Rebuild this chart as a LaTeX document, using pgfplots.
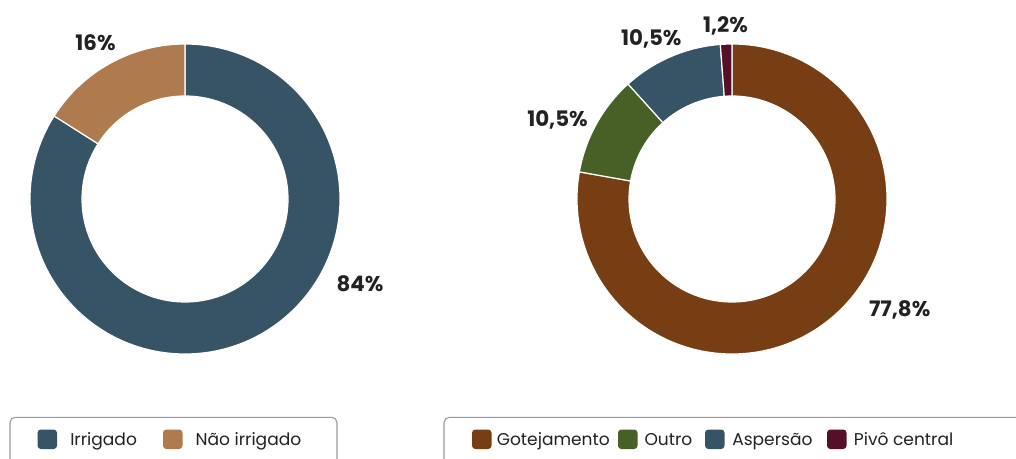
\documentclass[border=0pt]{standalone}
\usepackage{pgfplots}
\pgfplotsset{compat=1.18}
\usepackage{pgfplotstable}
\usepackage{fontspec}
\setmainfont{Poppins}

\definecolor{irrigado}{HTML}{375467}
\definecolor{naoirrigado}{HTML}{AF7B4E}
\definecolor{gotejamento}{HTML}{773E13}
\definecolor{outro}{HTML}{466026}
\definecolor{aspersao}{HTML}{375467}
\definecolor{pivo}{HTML}{560F28}
\definecolor{txt}{HTML}{222222}

% share of each category (%)
\pgfplotstableread{
value color
84   irrigado
16   naoirrigado
}\usoA
\pgfplotstableread{
value color
77.8 gotejamento
10.5 outro
10.5 aspersao
1.2  pivo
}\usoB

% 1 axis unit = 0.75pt; outer radius 155, inner 103
\newcommand\donut[3]{%
  \pgfplotstablegetrowsof{#1}%
  \pgfmathtruncatemacro\nrows{\pgfplotsretval-1}%
  \gdef\aStart{90}%
  \foreach \i in {0,...,\nrows}{%
    \pgfplotstablegetelem{\i}{value}\of{#1}\let\val\pgfplotsretval
    \pgfplotstablegetelem{\i}{color}\of{#1}\let\col\pgfplotsretval
    \pgfmathsetmacro\aEnd{\aStart-3.6*\val}%
    \fill[fill=\col, draw=white, line width=0.9pt, shift={(axis cs:#2,#3)}]
      (\aStart:116.25pt) arc[start angle=\aStart, end angle=\aEnd, radius=116.25pt]
      -- (\aEnd:77.25pt) arc[start angle=\aEnd, end angle=\aStart, radius=77.25pt] -- cycle;
    \xdef\aStart{\aEnd}%
  }}

% swatch left x, text offset, colour, text
\newcommand\legitem[4]{%
  \fill[#3, rounded corners=2.5pt] (axis cs:#1,9) rectangle (axis cs:#1+19.5,28.5);
  \node[anchor=base west, inner sep=0pt, text=txt, font=\fontsize{12.8}{15}\selectfont]
    at (axis cs:#1+#2,12.3) {#4};}

\newcommand\lab[3]{%
  \node[anchor=base, inner sep=0pt, text=txt, font=\fontsize{16}{18}\selectfont\bfseries]
    at (axis cs:#1,#2) {#3};}

\begin{document}
\begin{tikzpicture}
\begin{axis}[
  scale only axis, width=762pt, height=343.5pt,
  xmin=0, xmax=1016, ymin=0, ymax=458,
  hide axis, clip=false]
\addplot[draw=none] coordinates {(0,0) (1016,458)};
\pgfplotsextra{
  \donut{\usoA}{185}{259}
  \donut{\usoB}{732}{259}
  \lab{95.5}{407.3}{16\%}
  \lab{360}{166.3}{84\%}
  \lab{899.7}{142}{77,8\%}
  \lab{557.5}{332}{10,5\%}
  \lab{651.3}{412}{10,5\%}
  \lab{725.5}{425.7}{1,2\%}
  \draw[draw=gray!80, line width=0.8pt, rounded corners=4pt]
    (axis cs:10,-20) rectangle (axis cs:337,40.7);
  \draw[draw=gray!80, line width=0.8pt, rounded corners=4pt]
    (axis cs:444,-20) rectangle (axis cs:1040,40.7);
  \legitem{37.5}{32.5}{irrigado}{Irrigado}
  \legitem{163}{32.3}{naoirrigado}{Não irrigado}
  \legitem{472}{24.5}{gotejamento}{Gotejamento}
  \legitem{618}{26.3}{outro}{Outro}
  \legitem{705}{27}{aspersao}{Aspersão}
  \legitem{827}{26.7}{pivo}{Pivô central}
}
\end{axis}
\pgfresetboundingbox
\path[use as bounding box] (current axis.south west) rectangle (current axis.north east);
\end{tikzpicture}
\end{document}
